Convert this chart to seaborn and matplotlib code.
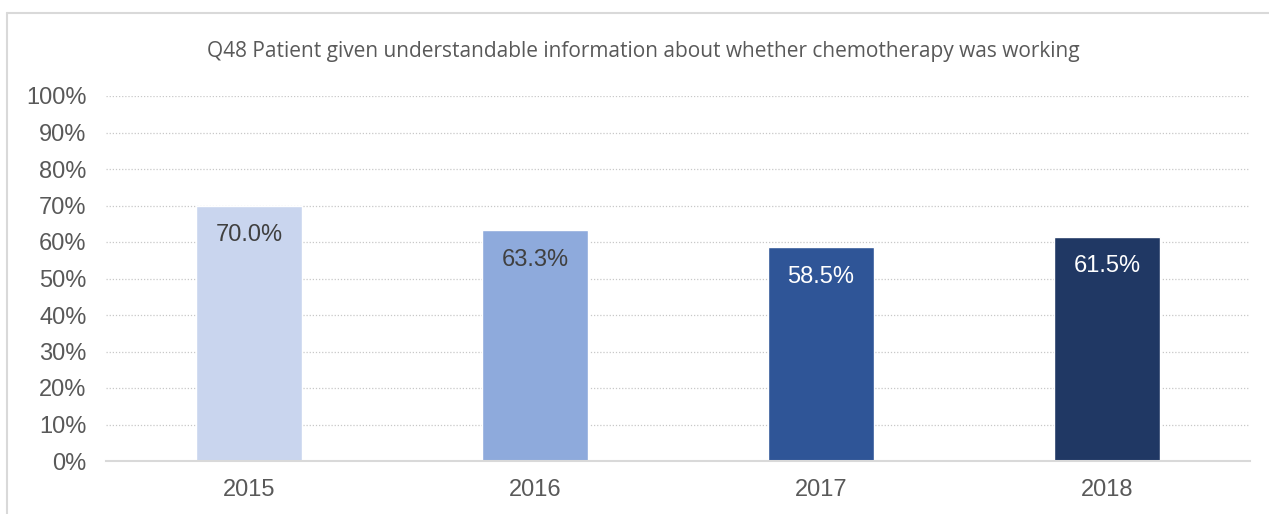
import matplotlib
matplotlib.use("Agg")
import matplotlib.pyplot as plt
from matplotlib.lines import Line2D
from matplotlib.ticker import MultipleLocator, FuncFormatter
import seaborn as sns
import pandas as pd

# Survey results by year
years = ["2015", "2016", "2017", "2018"]
percent = [70.0, 63.3, 58.5, 61.5]
bar_colors = ["#C9D5EE", "#8EAADC", "#2F5597", "#203864"]
label_colors = ["#404040", "#404040", "#FFFFFF", "#FFFFFF"]
title = "Q48 Patient given understandable information about whether chemotherapy was working"

df = pd.DataFrame({"year": years, "percent": percent})

sns.set_theme(style="white")
plt.rcParams["font.family"] = ["Liberation Sans", "DejaVu Sans"]

W, H = 1269, 514
fig = plt.figure(figsize=(W / 100, H / 100), dpi=100)
ax = fig.add_axes([106 / W, 53 / H, (1250 - 106) / W, (461 - 96) / H])

sns.barplot(data=df, x="year", y="percent", hue="year", palette=bar_colors,
            width=0.37, legend=False, ax=ax, saturation=1)

ax.set_ylim(0, 100)
ax.set_xlim(-0.5, len(years) - 0.5)
ax.yaxis.set_major_locator(MultipleLocator(10))
ax.yaxis.set_major_formatter(FuncFormatter(lambda v, p: f"{v:.0f}%"))
ax.set_xlabel("")
ax.set_ylabel("")
ax.grid(axis="y", color="#C8C8C8", linestyle=(0, (1, 1.5)), linewidth=0.9)
ax.set_axisbelow(True)
for side in ["top", "right", "left"]:
    ax.spines[side].set_visible(False)
ax.spines["bottom"].set_color("#D9D9D9")
ax.spines["bottom"].set_linewidth(1.5)
ax.tick_params(axis="both", length=0, labelsize=17, colors="#595959")
ax.tick_params(axis="y", pad=14)
ax.tick_params(axis="x", pad=13)

# Value labels inside the top of each bar
for i, (v, c) in enumerate(zip(percent, label_colors)):
    ax.annotate(f"{v:.1f}%", xy=(i, v), xytext=(0, -21.5), textcoords="offset points",
                ha="center", va="center", fontsize=17, color=c)

fig.text(643 / W, 1 - 51 / H, title, ha="center", va="center", fontsize=15,
         color="#595959", family=["Open Sans", "DejaVu Sans"])

# Chart frame
fig.add_artist(Line2D([7 / W, 7 / W], [0, 1 - 13 / H], color="#D9D9D9", lw=1.5,
                      transform=fig.transFigure))
fig.add_artist(Line2D([7 / W, 1], [1 - 13 / H, 1 - 13 / H], color="#D9D9D9", lw=1.5,
                      transform=fig.transFigure))

fig.savefig("out.png", dpi=100)
